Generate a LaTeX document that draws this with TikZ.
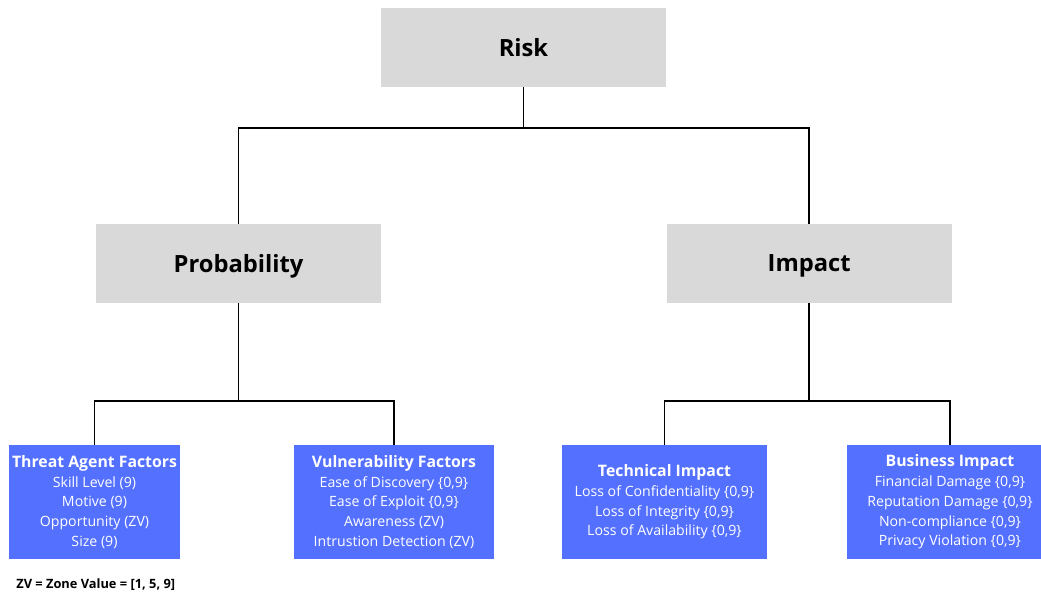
\documentclass[tikz,border=0pt]{standalone}
\usepackage{fontspec}
\setmainfont{Open Sans}
\usetikzlibrary{positioning}
\definecolor{boxgrey}{RGB}{217,217,217}
\definecolor{factorblue}{RGB}{84,112,255}
\newcommand{\fhead}[1]{{\fontsize{9.0}{11.3}\selectfont\bfseries #1}}

\begin{document}
\begin{tikzpicture}[%
        greybox/.style={rectangle, fill=boxgrey, minimum width=5.7cm, minimum height=1.58cm, inner sep=0pt, text depth=0pt, font=\fontsize{13.5}{16}\selectfont\bfseries},
        bluebox/.style={rectangle, fill=factorblue, text=white, align=center, minimum height=2.28cm, inner sep=0pt, font=\fontsize{8.05}{11.2}\selectfont},
        link/.style={draw, line width=1.1pt},
        node distance=5.7cm
      ]
      \clip (0,0) rectangle (20.82,-11.86);
      \node [greybox] (risk) at (10.47,-0.95) {Risk};
      \node [greybox] (prob) at (4.77,-5.27) {Probability};
      \node [greybox, right=of prob] (impact) {Impact};

      \node [bluebox, minimum width=3.42cm] (threat) at (1.89,-10.04) {\fhead{Threat Agent Factors}\\ Skill Level (9)\\ Motive (9)\\ Opportunity (ZV)\\ Size (9)};
      \node [bluebox, minimum width=4.0cm] (vuln) at (7.88,-10.04) {\fhead{Vulnerability Factors}\\ Ease of Discovery \{0,9\}\\ Ease of Exploit \{0,9\}\\ Awareness (ZV)\\ Intrustion Detection (ZV)};
      \node [bluebox, minimum width=4.1cm] (tech) at (13.29,-10.04) {\fhead{Technical Impact}\\ Loss of Confidentiality \{0,9\}\\ Loss of Integrity \{0,9\}\\ Loss of Availability \{0,9\}};
      \node [bluebox, minimum width=4.12cm] (business) at (19.0,-10.04) {\fhead{Business Impact}\\ Financial Damage \{0,9\}\\ Reputation Damage \{0,9\}\\ Non-compliance \{0,9\}\\ Privacy Violation \{0,9\}};

      \node [anchor=west, inner sep=0pt, font=\fontsize{7.3}{8.8}\selectfont\bfseries] (note) at (0.32,-11.7) {ZV = Zone Value = [1, 5, 9]};

      \draw [link] (risk.south) -- ++(0,-0.82) coordinate (riskbus) -| (prob.north);
      \draw [link] (riskbus) -| (impact.north);
      \draw [link] (prob.south) -- ++(0,-1.96) coordinate (probbus) -| (threat.north);
      \draw [link] (probbus) -| (vuln.north);
      \draw [link] (impact.south) -- ++(0,-1.96) coordinate (impactbus) -| (tech.north);
      \draw [link] (impactbus) -| (business.north);
    \end{tikzpicture}
\end{document}
